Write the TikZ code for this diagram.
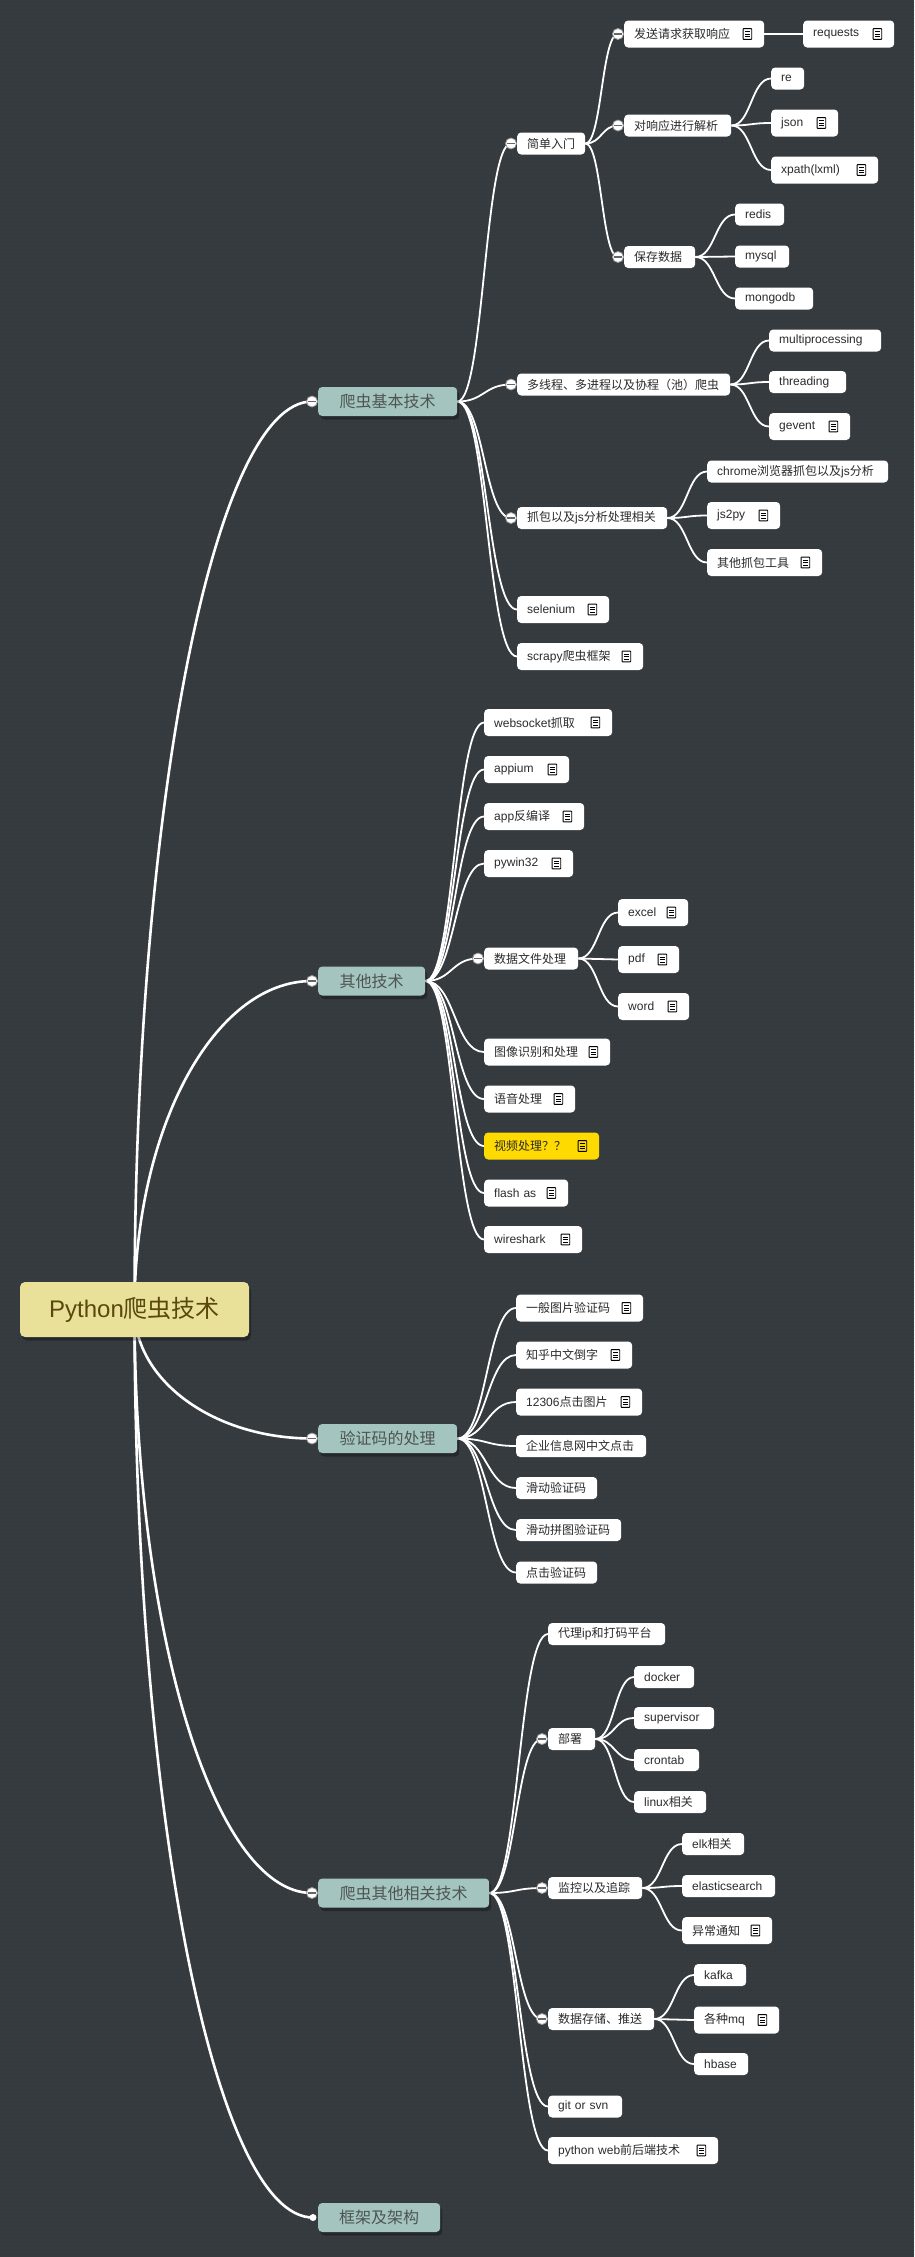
\documentclass[tikz,border=0pt]{standalone}
\usepackage{fontspec}
\setmainfont{Noto Sans CJK SC}
\newfontfamily\lat{Liberation Sans}
\usetikzlibrary{calc,shadows,patterns.meta}

\definecolor{canvasbg}{HTML}{363B3F}
\definecolor{canvasdot}{HTML}{2D3135}
\definecolor{topicfill}{HTML}{A4C5BF}
\definecolor{topictext}{HTML}{4E5452}
\definecolor{rootfill}{HTML}{E9E09A}
\definecolor{roottext}{HTML}{5A480C}
\definecolor{leaftext}{HTML}{2B2B2B}
\definecolor{flagyellow}{HTML}{FFDA00}
\definecolor{expring}{HTML}{9A9A9A}

\pgfdeclarelayer{back}
\pgfdeclarelayer{links}
\pgfsetlayers{back,links,main}

\tikzset{
  softshadow/.style={general shadow={fill=black, opacity=0.3, shadow xshift=2pt, shadow yshift=-3.5pt}},
  rootbox/.style={fill=rootfill, rounded corners=5pt, minimum width=229pt, minimum height=55pt,
    inner sep=0pt, text=roottext, font=\fontsize{24}{28}\selectfont, softshadow},
  topic/.style={fill=topicfill, rounded corners=4pt, anchor=west, minimum height=29pt,
    inner xsep=21pt, inner ysep=0pt, text=topictext, font=\fontsize{16}{19}\selectfont, softshadow},
  leaf/.style={fill=white, rounded corners=4pt, anchor=west, minimum height=22pt,
    inner xsep=10pt, inner ysep=0pt, align=left, text=leaftext,
    font=\fontsize{12}{14}\selectfont, text width=#1},
  noted/.style={minimum height=27pt},
  flagged/.style={fill=flagyellow},
  expander/.style={circle, fill=white, draw=expring, line width=0.8pt, minimum size=11pt, inner sep=0pt,
    path picture={\draw[black!60, line width=1.2pt]
      ([xshift=-3.6pt]path picture bounding box.center) -- ([xshift=3.6pt]path picture bounding box.center);}},
  enddot/.style={circle, fill=white, minimum size=7pt, inner sep=0pt},
  trunkline/.style={draw=white, line width=2.6pt},
  branchline/.style={draw=white, line width=1.8pt},
  noteico/.pic={
    \draw[black, line width=0.9pt, rounded corners=0.6pt] (-4.3,-5.4) rectangle (4.3,5.4);
    \draw[black, line width=0.9pt] (-2.3,-2.5) -- (2.3,-2.5) (-2.3,0) -- (2.3,0) (-2.3,2.5) -- (2.3,2.5);
  }
}

% curved link from the central topic: a quarter ellipse
\newcommand\trunklink[2]{\draw[trunkline] let \p1=(#1.center), \p2=(#2) in
  (\p1) .. controls ($(\p1)!0.5523!(\x1,\y2)$) and ($(\p2)!0.5523!(\x1,\y2)$) .. (\p2);}
% s-shaped link between a parent and a child
\newcommand\branchlink[2]{\draw[branchline] let \p1=(#1.east), \p2=(#2) in
  (\p1) .. controls ({(\x1+\x2)/2},\y1) and ({(\x1+\x2)/2},\y2) .. (\p2);}
% note marker at the right end of a node
\newcommand\noteon[1]{\path ([xshift=-17pt]#1.east) pic {noteico};}
% collapse button left of a node
\newcommand\expand[1]{\node[expander] (x#1) at ([xshift=-6pt]#1.west) {};}

\begin{document}
\begin{tikzpicture}[x=1pt, y=-1pt]
\useasboundingbox (0,0) rectangle (914,2257);
\begin{pgfonlayer}{back}
  \fill[canvasbg] (0,0) rectangle (914,2257);
  \fill[pattern={Dots[distance=4pt, radius=0.5pt]}, pattern color=canvasdot] (0,0) rectangle (914,2257);
\end{pgfonlayer}

% central topic
\node[rootbox] (root) at (134.5,1309.5) {{\lat Python}爬虫技术};

% main topics
\node[topic, minimum width=139pt] (t1) at (318,401.5) {爬虫基本技术};
\node[topic, minimum width=107pt] (t2) at (318,981) {其他技术};
\node[topic, minimum width=139pt] (t3) at (318,1438.5) {验证码的处理};
\node[topic, minimum width=171pt] (t4) at (318,1893) {爬虫其他相关技术};
\node[topic, minimum width=121pt] (t5) at (318,2217.5) {框架及架构};

% branch 1
\node[leaf=48pt] (jd) at (517,143.5) {简单入门};
\node[leaf=193pt] (dxc) at (517,384.5) {多线程、多进程以及协程（池）爬虫};
\node[leaf=130pt] (zb) at (517,518) {抓包以及{\lat js}分析处理相关};
\node[leaf=72pt, noted] (sel) at (517,609.5) {{\lat selenium}};
\node[leaf=106pt, noted] (scr) at (517,656.5) {{\lat scrapy}爬虫框架};

\node[leaf=120pt, noted] (fs) at (624,34) {发送请求获取响应};
\node[leaf=87pt] (jx) at (624,125.5) {对响应进行解析};
\node[leaf=51pt] (bc) at (624,257) {保存数据};

\node[leaf=71pt, noted] (req) at (803,34) {{\lat requests}};
\node[leaf=13pt] (re) at (771,78.5) {{\lat re}};
\node[leaf=47pt, noted] (json) at (771,123) {{\lat json}};
\node[leaf=87pt, noted] (xp) at (771,170) {{\lat xpath(lxml)}};
\node[leaf=29pt] (redis) at (735,214.5) {{\lat redis}};
\node[leaf=34pt] (mysql) at (735,256.5) {{\lat mysql}};
\node[leaf=58pt] (mongo) at (735,298.5) {{\lat mongodb}};

\node[leaf=92pt] (mp) at (769,340.5) {{\lat multiprocessing}};
\node[leaf=57pt] (thr) at (769,382) {{\lat threading}};
\node[leaf=61pt, noted] (gev) at (769,426.5) {{\lat gevent}};

\node[leaf=161pt] (chr) at (707,471.5) {{\lat chrome}浏览器抓包以及{\lat js}分析};
\node[leaf=53pt, noted] (jsp) at (707,515.5) {{\lat js2py}};
\node[leaf=95pt, noted] (oth) at (707,562.5) {其他抓包工具};

% branch 2
\node[leaf=108pt, noted] (ws) at (484,722.5) {{\lat websocket}抓取};
\node[leaf=65pt, noted] (apm) at (484,769.5) {{\lat appium}};
\node[leaf=80pt, noted] (apk) at (484,816.5) {{\lat app}反编译};
\node[leaf=69pt, noted] (pyw) at (484,863.5) {{\lat pywin32}};
\node[leaf=74pt] (dfp) at (484,958.5) {数据文件处理};
\node[leaf=106pt, noted] (img) at (484,1052) {图像识别和处理};
\node[leaf=71pt, noted] (voi) at (484,1099) {语音处理};
\node[leaf=95pt, noted, flagged] (vid) at (484,1146) {视频处理？？};
\node[leaf=64pt, noted] (fla) at (484,1193) {{\lat flash as}};
\node[leaf=78pt, noted] (wsh) at (484,1239.5) {{\lat wireshark}};

\node[leaf=50pt, noted] (xls) at (618,912.5) {{\lat excel}};
\node[leaf=41pt, noted] (pdf) at (618,959.5) {{\lat pdf}};
\node[leaf=51pt, noted] (doc) at (618,1006.5) {{\lat word}};

% branch 3
\node[leaf=107pt, noted] (v1) at (516,1308) {一般图片验证码};
\node[leaf=96pt, noted] (v2) at (516,1355) {知乎中文倒字};
\node[leaf=106pt, noted] (v3) at (516,1402) {{\lat 12306}点击图片};
\node[leaf=110pt] (v4) at (516,1446) {企业信息网中文点击};
\node[leaf=61pt] (v5) at (516,1488) {滑动验证码};
\node[leaf=85pt] (v6) at (516,1530) {滑动拼图验证码};
\node[leaf=61pt] (v7) at (516,1572.5) {点击验证码};

% branch 4
\node[leaf=97pt] (prx) at (548,1634) {代理{\lat ip}和打码平台};
\node[leaf=27pt] (dep) at (548,1739) {部署};
\node[leaf=74pt] (mon) at (548,1888) {监控以及追踪};
\node[leaf=86pt] (sto) at (548,2019) {数据存储、推送};
\node[leaf=54pt] (git) at (548,2106.5) {{\lat git or svn}};
\node[leaf=150pt, noted] (web) at (548,2150.5) {{\lat python web}前后端技术};

\node[leaf=40pt] (dock) at (634,1677) {{\lat docker}};
\node[leaf=60pt] (sup) at (634,1718) {{\lat supervisor}};
\node[leaf=45pt] (cron) at (634,1760) {{\lat crontab}};
\node[leaf=52pt] (lnx) at (634,1802) {{\lat linux}相关};

\node[leaf=42pt] (elk) at (682,1844) {{\lat elk}相关};
\node[leaf=73pt] (es) at (682,1886) {{\lat elasticsearch}};
\node[leaf=70pt, noted] (alert) at (682,1930.5) {异常通知};

\node[leaf=32pt] (kaf) at (694,1975) {{\lat kafka}};
\node[leaf=65pt, noted] (mq) at (694,2020) {各种{\lat mq}};
\node[leaf=34pt] (hb) at (694,2064) {{\lat hbase}};

% collapse buttons
\expand{t1} \expand{t2} \expand{t3} \expand{t4}
\expand{jd} \expand{dxc} \expand{zb}
\expand{fs} \expand{jx} \expand{bc}
\expand{dfp}
\expand{dep} \expand{mon} \expand{sto}
\node[enddot] (d5) at ([xshift=-5pt]t5.west) {};

% note markers
\foreach \n in {sel,scr,fs,req,json,xp,gev,jsp,oth,ws,apm,apk,pyw,img,voi,vid,fla,wsh,
                xls,pdf,doc,v1,v2,v3,web,alert,mq}{\noteon{\n}}

% links
\begin{pgfonlayer}{links}
  \trunklink{root}{xt1.center}
  \trunklink{root}{xt2.center}
  \trunklink{root}{xt3.center}
  \trunklink{root}{xt4.center}
  \trunklink{root}{d5.center}

  \branchlink{t1}{xjd.center}
  \branchlink{t1}{xdxc.center}
  \branchlink{t1}{xzb.center}
  \branchlink{t1}{sel.west}
  \branchlink{t1}{scr.west}
  \branchlink{jd}{xfs.center}
  \branchlink{jd}{xjx.center}
  \branchlink{jd}{xbc.center}
  \branchlink{fs}{req.west}
  \branchlink{jx}{re.west}
  \branchlink{jx}{json.west}
  \branchlink{jx}{xp.west}
  \branchlink{bc}{redis.west}
  \branchlink{bc}{mysql.west}
  \branchlink{bc}{mongo.west}
  \branchlink{dxc}{mp.west}
  \branchlink{dxc}{thr.west}
  \branchlink{dxc}{gev.west}
  \branchlink{zb}{chr.west}
  \branchlink{zb}{jsp.west}
  \branchlink{zb}{oth.west}

  \foreach \c in {ws,apm,apk,pyw,img,voi,vid,fla,wsh}{\branchlink{t2}{\c.west}}
  \branchlink{t2}{xdfp.center}
  \foreach \c in {xls,pdf,doc}{\branchlink{dfp}{\c.west}}

  \foreach \c in {v1,v2,v3,v4,v5,v6,v7}{\branchlink{t3}{\c.west}}

  \branchlink{t4}{prx.west}
  \branchlink{t4}{xdep.center}
  \branchlink{t4}{xmon.center}
  \branchlink{t4}{xsto.center}
  \branchlink{t4}{git.west}
  \branchlink{t4}{web.west}
  \foreach \c in {dock,sup,cron,lnx}{\branchlink{dep}{\c.west}}
  \foreach \c in {elk,es,alert}{\branchlink{mon}{\c.west}}
  \foreach \c in {kaf,mq,hb}{\branchlink{sto}{\c.west}}
\end{pgfonlayer}
\end{tikzpicture}
\end{document}
